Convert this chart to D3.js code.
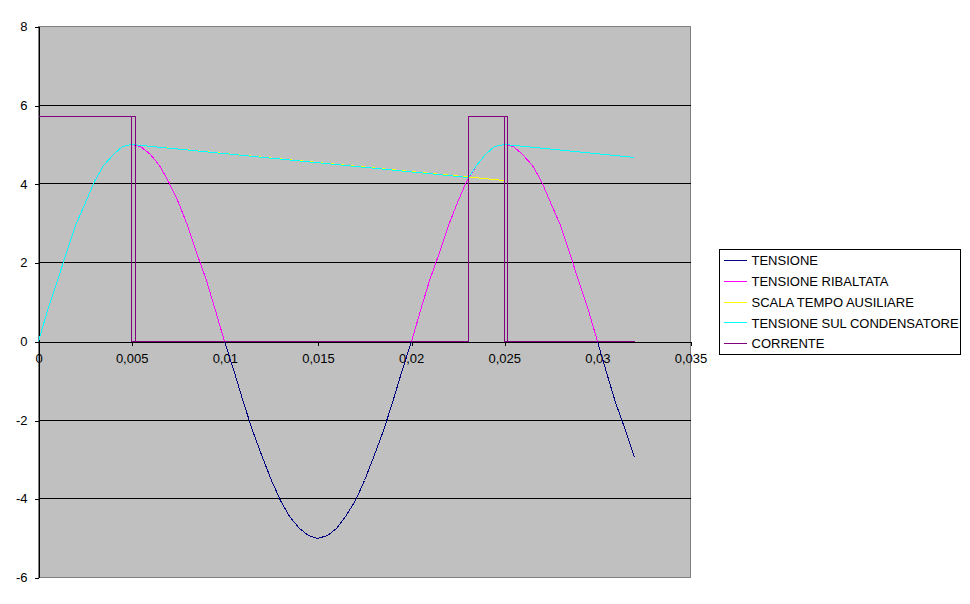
<!DOCTYPE html>
<html>
<head>
<meta charset="utf-8">
<script src="https://cdn.jsdelivr.net/npm/d3@7"></script>
<style>
  html, body { margin: 0; padding: 0; background: #ffffff; }
  svg { display: block; }
  text { font-family: "Liberation Sans", Arial, sans-serif; font-size: 13px; fill: #000; }
</style>
</head>
<body>
<svg id="chart" width="970" height="604"></svg>
<script>
// ---------- data ----------
const seriesNames = ["TENSIONE", "TENSIONE RIBALTATA", "SCALA TEMPO AUSILIARE", "TENSIONE SUL CONDENSATORE", "CORRENTE"];
const seriesColors = ["#000080", "#FF00FF", "#FFFF00", "#00FFFF", "#800080"];

const xTickValues = [0, 0.005, 0.01, 0.015, 0.02, 0.025, 0.03, 0.035];
const xTickLabels = ["0", "0,005", "0,01", "0,015", "0,02", "0,025", "0,03", "0,035"];
const yTickValues = [-6, -4, -2, 0, 2, 4, 6, 8];
const yTickLabels = ["-6", "-4", "-2", "0", "2", "4", "6", "8"];

// sampled time axis (s)
const time = [0, 0.0005, 0.001, 0.0015, 0.002, 0.0025, 0.003, 0.0035, 0.004, 0.0045, 0.005,
  0.0055, 0.006, 0.0065, 0.007, 0.0075, 0.008, 0.0085, 0.009, 0.0095, 0.01,
  0.0105, 0.011, 0.0115, 0.012, 0.0125, 0.013, 0.0135, 0.014, 0.0145, 0.015,
  0.0155, 0.016, 0.0165, 0.017, 0.0175, 0.018, 0.0185, 0.019, 0.0195, 0.02,
  0.0205, 0.021, 0.0215, 0.022, 0.0225, 0.023, 0.0235, 0.024, 0.0245, 0.025,
  0.0255, 0.026, 0.0265, 0.027, 0.0275, 0.028, 0.0285, 0.029, 0.0295, 0.03,
  0.0305, 0.031, 0.0315, 0.032];

// TENSIONE (V)
const tensione = [0, 0.78, 1.55, 2.27, 2.94, 3.54, 4.05, 4.46, 4.76, 4.94, 5.00,
  4.94, 4.76, 4.46, 4.05, 3.54, 2.94, 2.27, 1.55, 0.78, 0,
  -0.78, -1.55, -2.27, -2.94, -3.54, -4.05, -4.46, -4.76, -4.94, -5.00,
  -4.94, -4.76, -4.46, -4.05, -3.54, -2.94, -2.27, -1.55, -0.78, 0,
  0.78, 1.55, 2.27, 2.94, 3.54, 4.05, 4.46, 4.76, 4.94, 5.00,
  4.94, 4.76, 4.46, 4.05, 3.54, 2.94, 2.27, 1.55, 0.78, 0,
  -0.78, -1.55, -2.27, -2.94];

// TENSIONE RIBALTATA (V) – only the positive half-waves are visible
const ribaltata = [0, 0.78, 1.55, 2.27, 2.94, 3.54, 4.05, 4.46, 4.76, 4.94, 5.00,
  4.94, 4.76, 4.46, 4.05, 3.54, 2.94, 2.27, 1.55, 0.78, 0,
  null, null, null, null, null, null, null, null, null, null,
  null, null, null, null, null, null, null, null, null, 0,
  0.78, 1.55, 2.27, 2.94, 3.54, 4.05, 4.46, 4.76, 4.94, 5.00,
  4.94, 4.76, 4.46, 4.05, 3.54, 2.94, 2.27, 1.55, 0.78, 0,
  null, null, null, null];

// SCALA TEMPO AUSILIARE
const scalaTime = [0.005, 0.025];
const scalaVal = [5.00, 4.09];

// TENSIONE SUL CONDENSATORE
const condTime = [0, 0.0005, 0.001, 0.0015, 0.002, 0.0025, 0.003, 0.0035, 0.004, 0.0045, 0.005,
  0.0231, 0.0235, 0.024, 0.0245, 0.025, 0.032];
const condVal = [0, 0.78, 1.55, 2.27, 2.94, 3.54, 4.05, 4.46, 4.76, 4.94, 5.00,
  4.16, 4.46, 4.76, 4.94, 5.00, 4.67];

// CORRENTE
const corrTime = [0, 0.0052, 0.0052, 0.005, 0.005, 0.005, 0.0231, 0.0231, 0.0252, 0.0252, 0.025, 0.025, 0.025, 0.032];
const corrVal = [5.72, 5.72, 0, 0, 5.72, 0, 0, 5.72, 5.72, 0, 0, 5.72, 0, 0];

// ---------- chart ----------
const svg = d3.select("#chart");
const plot = { left: 38.5, right: 690.5, top: 26.5, bottom: 577.5 };

const x = d3.scaleLinear().domain([0, 0.035]).range([plot.left, plot.right]);
const y = d3.scaleLinear().domain([-6, 8]).range([plot.bottom, plot.top]);
const px = v => Math.round(v - 0.5) + 0.5;   // snap to pixel centres

// plot area background
svg.append("rect")
  .attr("x", plot.left).attr("y", plot.top)
  .attr("width", plot.right - plot.left).attr("height", plot.bottom - plot.top)
  .attr("fill", "#C0C0C0").attr("stroke", "#808080").attr("stroke-width", 1)
  .attr("shape-rendering", "crispEdges");

// horizontal gridlines
svg.append("g").selectAll("line")
  .data(yTickValues.filter(v => v !== 0 && v !== 8 && v !== -6))
  .join("line")
  .attr("x1", plot.left).attr("x2", plot.right)
  .attr("y1", d => px(y(d))).attr("y2", d => px(y(d)))
  .attr("stroke", "#000").attr("stroke-width", 1)
  .attr("shape-rendering", "crispEdges");

// axes
const xAxis = d3.axisBottom(x)
  .tickValues(xTickValues)
  .tickFormat((d, i) => xTickLabels[i])
  .tickSize(4).tickSizeOuter(0).tickPadding(8);
const yAxis = d3.axisLeft(y)
  .tickValues(yTickValues)
  .tickFormat((d, i) => yTickLabels[i])
  .tickSize(4).tickSizeOuter(0).tickPadding(7);

const gx = svg.append("g")
  .attr("transform", `translate(0,${px(y(0))})`)
  .call(xAxis);
const gy = svg.append("g")
  .attr("transform", `translate(${plot.left},0)`)
  .call(yAxis);
[gx, gy].forEach(g => {
  g.selectAll("path, line").attr("stroke", "#000").attr("shape-rendering", "crispEdges");
  g.selectAll("text").style("font-family", "'Liberation Sans', Arial, sans-serif").style("font-size", "13px").attr("fill", "#000");
});
gx.selectAll(".tick line").attr("transform", d => `translate(${px(x(d)) - x(d)},0)`);
gy.selectAll(".tick line").attr("transform", d => `translate(0,${px(y(d)) - y(d)})`);

// series lines (aliased 1px like the original)
const line = d3.line()
  .defined(d => d[1] !== null)
  .x(d => px(x(d[0])))
  .y(d => px(y(d[1])));

const zip = (a, b) => a.map((v, i) => [v, b[i]]);
const seriesData = [
  zip(time, tensione),
  zip(time, ribaltata),
  zip(scalaTime, scalaVal),
  zip(condTime, condVal),
  zip(corrTime, corrVal)
];

seriesData.forEach((data, i) => {
  svg.append("path")
    .datum(data)
    .attr("fill", "none")
    .attr("stroke", seriesColors[i])
    .attr("stroke-width", 1)
    .attr("stroke-linejoin", "miter")
    .attr("shape-rendering", "crispEdges")
    .attr("d", line);
});

// legend
const legend = { x: 719.5, y: 249.5, w: 241, h: 105 };
svg.append("rect")
  .attr("x", legend.x).attr("y", legend.y)
  .attr("width", legend.w).attr("height", legend.h)
  .attr("fill", "#fff").attr("stroke", "#000").attr("stroke-width", 1)
  .attr("shape-rendering", "crispEdges");

const rowH = 20.8;
const lg = svg.append("g");
seriesNames.forEach((name, i) => {
  const cy = 260.5 + i * rowH;
  lg.append("line")
    .attr("x1", 724).attr("x2", 747)
    .attr("y1", px(cy)).attr("y2", px(cy))
    .attr("stroke", seriesColors[i]).attr("stroke-width", 1)
    .attr("shape-rendering", "crispEdges");
  lg.append("text")
    .attr("x", 751.5).attr("y", cy)
    .attr("dy", "0.36em")
    .text(name);
});
</script>
</body>
</html>
